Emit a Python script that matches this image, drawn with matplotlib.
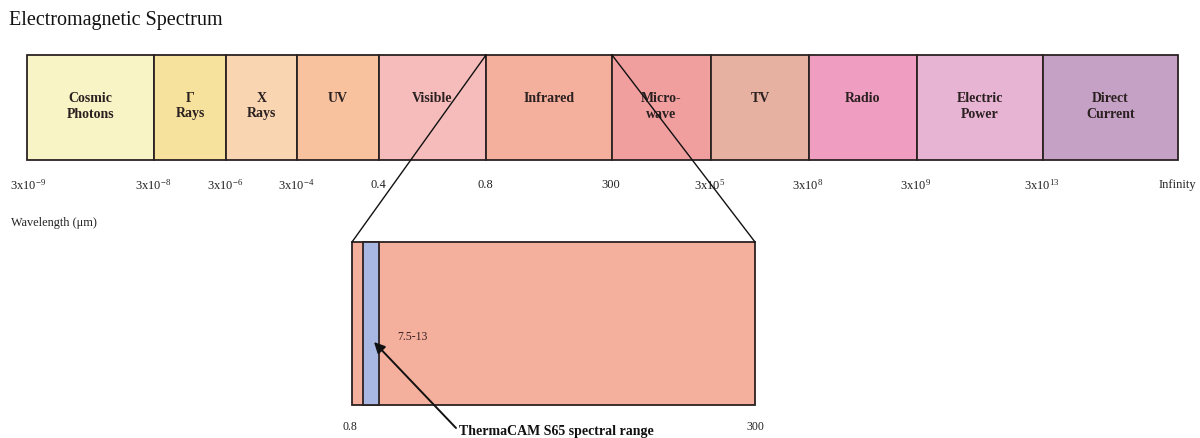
import matplotlib
matplotlib.use("Agg")
import matplotlib.pyplot as plt
from matplotlib.patches import Rectangle

plt.rcParams['font.family'] = ['Liberation Serif', 'DejaVu Serif']
plt.rcParams['mathtext.fontset'] = 'custom'
plt.rcParams['mathtext.rm'] = 'Liberation Serif'
plt.rcParams['mathtext.it'] = 'Liberation Serif:italic'
plt.rcParams['mathtext.bf'] = 'Liberation Serif:bold'

# ---- data ----
title = "Electromagnetic Spectrum"
bands = ["Cosmic\nPhotons", "Γ\nRays", "X\nRays", "UV", "Visible", "Infrared",
         "Micro-\nwave", "TV", "Radio", "Electric\nPower", "Direct\nCurrent"]
edge_labels = ["3x10$^{-9}$", "3x10$^{-8}$", "3x10$^{-6}$", "3x10$^{-4}$", "0.4", "0.8",
               "300", "3x10$^{5}$", "3x10$^{8}$", "3x10$^{9}$", "3x10$^{13}$", "Infinity"]
axis_label = "Wavelength (μm)"
zoom_band = "Infrared"
zoom_edge_labels = ["0.8", "300"]
camera_range_label = "7.5-13"
camera_label = "ThermaCAM S65 spectral range"

# ---- layout / style (pixel coordinates) ----
band_edges = [27, 154, 226, 297, 379, 486, 612, 711, 809, 917, 1043, 1178]
band_colors = ["#f8f4c6", "#f6e29c", "#f9d5b1", "#f7c29d", "#f6bcbc", "#f5af9d",
               "#f19e9f", "#e6b1a0", "#ef9dc1", "#e8b4d4", "#c6a1c6"]
bar_top, bar_bot = 55, 160
box_left, box_right, box_top, box_bot = 352, 755, 242, 405
cam_left, cam_right = 363, 379
edge_col = "#2b2222"

fig = plt.figure(figsize=(12, 4.38), dpi=100)
ax = fig.add_axes([0, 0, 1, 1])
ax.set_xlim(0, 1200)
ax.set_ylim(438, 0)
ax.axis('off')

ax.text(9, 20, title, fontsize=14.5, ha='left', va='center', color='#111111')

lefts = band_edges[:-1]
widths = [b - a for a, b in zip(band_edges[:-1], band_edges[1:])]
ax.bar(lefts, bar_bot - bar_top, width=widths, bottom=bar_top, align='edge',
       color=band_colors, edgecolor=edge_col, linewidth=1.3, zorder=2)

for name, l, w in zip(bands, lefts, widths):
    ax.text(l + w / 2, 92, name, ha='center', va='top', fontsize=10,
            fontweight='bold', color='#2a2020', linespacing=1.25,
            multialignment='center', zorder=4)

tick_fs = 9
for i, (lab, x) in enumerate(zip(edge_labels, band_edges)):
    if i == 0:
        ax.text(10, 185, lab, ha='left', va='center', fontsize=tick_fs, color='#222222')
    elif i == len(edge_labels) - 1:
        ax.text(1196, 185, lab, ha='right', va='center', fontsize=tick_fs, color='#222222')
    else:
        ax.text(x - 1, 185, lab, ha='center', va='center', fontsize=tick_fs, color='#222222')

ax.text(11, 223, axis_label, ha='left', va='center', fontsize=8.8, color='#222222')

# zoom lines
zi = bands.index(zoom_band)
ax.plot([band_edges[zi], box_left], [bar_top, box_top], color='#111111', lw=1.0, zorder=5)
ax.plot([band_edges[zi + 1], box_right], [bar_top, box_top], color='#111111', lw=1.0, zorder=5)

# lower box
ax.add_patch(Rectangle((box_left, box_top), box_right - box_left, box_bot - box_top,
                       facecolor=band_colors[zi], edgecolor=edge_col, lw=1.3, zorder=2))
ax.add_patch(Rectangle((cam_left, box_top), cam_right - cam_left, box_bot - box_top,
                       facecolor="#a8b8e2", edgecolor=edge_col, lw=1.3, zorder=3))

ax.text(box_left - 2, 427, zoom_edge_labels[0], ha='center', va='center', fontsize=8.5, color='#222222')
ax.text(box_right, 427, zoom_edge_labels[1], ha='center', va='center', fontsize=8.5, color='#222222')
ax.text(397, 337, camera_range_label, ha='left', va='center', fontsize=8.5, color='#3a2222')

ax.annotate("", xy=(374, 342), xytext=(456, 428),
            arrowprops=dict(arrowstyle='-|>', color='#111111', lw=1.4,
                            mutation_scale=16, shrinkA=0, shrinkB=0), zorder=6)
ax.text(459, 431, camera_label, ha='left', va='center', fontsize=10,
        fontweight='bold', color='#111111')

fig.savefig("out.png", dpi=100)
